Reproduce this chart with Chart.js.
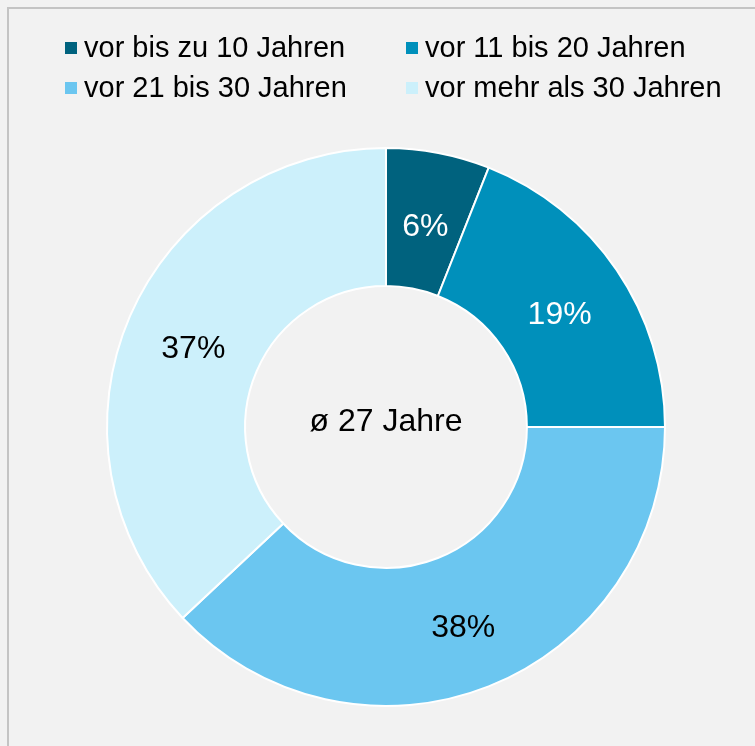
<!DOCTYPE html>
<html>
<head>
<meta charset="utf-8">
<script src="https://cdn.jsdelivr.net/npm/chart.js@4/dist/chart.umd.min.js"></script>
<style>
  html, body { margin: 0; padding: 0; background: #f2f2f2; overflow: hidden; }
  #wrap { position: relative; width: 755px; height: 746px; }
  #frame { position: absolute; left: 7px; top: 7px; width: 900px; height: 900px;
           border: 2px solid #c4c4c4; box-sizing: border-box; }
  #myChart { position: absolute; left: 0; top: 0; }
  #legend { position: absolute; left: 65px; top: 33px; display: grid;
            grid-template-columns: 341px auto; row-gap: 11px;
            font-family: "Liberation Sans", Arial, sans-serif; font-size: 29px; color: #000; }
  .item { display: flex; align-items: center; height: 29px; white-space: nowrap; }
  .box { width: 12px; height: 12px; margin-right: 7px; flex: none; }
</style>
</head>
<body>
<div id="wrap">
  <div id="frame"></div>
  <canvas id="myChart" width="755" height="746"></canvas>
  <div id="legend"></div>
</div>
<script>
let categories = ['vor bis zu 10 Jahren', 'vor 11 bis 20 Jahren', 'vor 21 bis 30 Jahren', 'vor mehr als 30 Jahren']
let shares = [6, 19, 38, 37]
let colors = ['#00627e', '#0090bb', '#6bc6f0', '#ccf0fb']
let labelColors = ['#ffffff', '#ffffff', '#000000', '#000000']
let centerText = 'ø 27 Jahre'

// legend in two columns, built from the same arrays
let legend = document.getElementById('legend')
categories.forEach((name, i) => {
    let item = document.createElement('div')
    item.className = 'item'
    item.innerHTML = `<span class="box" style="background:${colors[i]}"></span><span>${name}</span>`
    legend.appendChild(item)
})

const labelPlugin = {
    id: 'labels',
    afterDatasetsDraw(chart) {
        let ctx = chart.ctx
        let meta = chart.getDatasetMeta(0)
        ctx.save()
        ctx.font = '32px "Liberation Sans", Arial, sans-serif'
        ctx.textAlign = 'center'
        ctx.textBaseline = 'middle'
        meta.data.forEach((arc, i) => {
            let pos = arc.tooltipPosition()
            ctx.fillStyle = labelColors[i]
            ctx.fillText(shares[i] + '%', pos.x, pos.y + 6)
        })
        let first = meta.data[0]
        ctx.fillStyle = '#000000'
        ctx.fillText(centerText, first.x, first.y - 5)
        ctx.restore()
    }
}

var ctx = document.getElementById('myChart').getContext('2d');
var chart = new Chart(ctx, {
    type: 'doughnut',
    data: {
        labels: categories,
        datasets: [{
            data: shares,
            backgroundColor: colors,
            borderColor: '#ffffff',
            borderWidth: 2,
            hoverOffset: 0
        }]
    },
    options: {
        responsive: false,
        animation: false,
        cutout: '50.5%',
        layout: { padding: { top: 147, bottom: 39, left: 17, right: 0 } },
        plugins: {
            legend: { display: false },
            tooltip: { enabled: false }
        }
    },
    plugins: [labelPlugin]
});
</script>
</body>
</html>
